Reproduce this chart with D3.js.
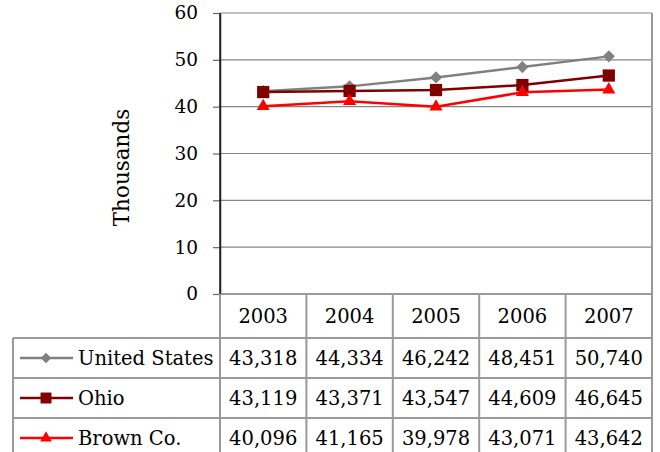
<!DOCTYPE html>
<html><head><meta charset="utf-8">
<script src="https://cdn.jsdelivr.net/npm/d3@7"></script>
<style>body{margin:0;background:#fff}svg{display:block}</style>
</head><body>
<svg id="c" width="660" height="452"></svg>
<script>
const years = ["2003","2004","2005","2006","2007"];
const seriesNames = ["United States","Ohio","Brown Co."];
const usValues = [43318, 44334, 46242, 48451, 50740];
const ohioValues = [43119, 43371, 43547, 44609, 46645];
const brownValues = [40096, 41165, 39978, 43071, 43642];
const yTicks = [0,10,20,30,40,50,60];
const yTitle = "Thousands";

const series = [
  {name: seriesNames[0], values: usValues, color: "#808080", marker: "diamond"},
  {name: seriesNames[1], values: ohioValues, color: "#800000", marker: "square"},
  {name: seriesNames[2], values: brownValues, color: "#ff0000", marker: "triangle"}
];

function markerPath(kind, big) {
  if (kind === "diamond") return d3.symbol(d3.symbolSquare, big ? 74 : 56)();
  if (kind === "square") return d3.symbol(d3.symbolSquare, big ? 150 : 120)();
  return d3.symbol(d3.symbolTriangle, big ? 74 : 60)();
}
function markerRot(kind) { return kind === "diamond" ? " rotate(45)" : ""; }

const font = "'DejaVu Serif', serif";
const svg = d3.select("#c");
const L = 220, R = 652, T = 13, B = 294;
const tableLeft = 13, rowH = 40, headH = 44;
const x = d3.scaleBand().domain(years).range([L, R]).padding(0);
const y = d3.scaleLinear().domain([0, 60]).range([B, T]);

// gridlines
svg.append("g").selectAll("line").data(yTicks).join("line")
  .attr("x1", L).attr("x2", R).attr("y1", d => y(d)).attr("y2", d => y(d))
  .attr("stroke", "#868686").attr("stroke-width", 1.2);

// y axis
const yAxis = d3.axisLeft(y).tickValues(yTicks).tickSize(7).tickPadding(15).tickSizeOuter(0);
const gy = svg.append("g").attr("transform", `translate(${L},0)`).call(yAxis);
gy.select(".domain").attr("stroke", "#222").attr("stroke-width", 1.5);
gy.selectAll(".tick line").attr("stroke", "#666").attr("stroke-width", 1.2);
gy.selectAll(".tick text").attr("font-family", font).attr("font-size", 18.5).attr("fill", "#000");

svg.append("text").attr("transform", `translate(129,${(T+B)/2+14}) rotate(-90)`)
  .attr("text-anchor", "middle").attr("font-family", font).attr("font-size", 21.5)
  .attr("fill", "#000").text(yTitle);

// table
const tg = svg.append("g").attr("stroke", "#9a9a9a").attr("stroke-width", 2);
const rowTops = [B, B + headH, B + headH + rowH, B + headH + 2*rowH];
tg.append("line").attr("x1", L).attr("x2", R).attr("y1", B).attr("y2", B);
rowTops.slice(1).forEach(yy => tg.append("line").attr("x1", tableLeft).attr("x2", R).attr("y1", yy).attr("y2", yy));
const bounds = years.map(d => x(d)).concat([R]);
bounds.forEach(xx => tg.append("line").attr("x1", xx).attr("x2", xx).attr("y1", B).attr("y2", 460));
tg.append("line").attr("x1", tableLeft).attr("x2", tableLeft).attr("y1", B + headH).attr("y2", 460);
svg.append("line").attr("x1", R).attr("x2", R).attr("y1", T).attr("y2", B).attr("stroke", "#9a9a9a").attr("stroke-width", 2);
svg.append("line").attr("x1", L).attr("x2", L).attr("y1", T).attr("y2", B).attr("stroke", "#222").attr("stroke-width", 1.5);

// year header
svg.append("g").selectAll("text").data(years).join("text")
  .attr("x", d => x(d) + x.bandwidth()/2).attr("y", B + headH/2 + 7)
  .attr("text-anchor", "middle").attr("font-family", font).attr("font-size", 19.5)
  .attr("fill", "#000").text(d => d);

const fmt = d3.format(",");
series.forEach((s, i) => {
  const cy = B + headH + rowH*i + rowH/2;
  svg.append("g").selectAll("text").data(s.values).join("text")
    .attr("x", (d, j) => x(years[j]) + x.bandwidth()/2).attr("y", cy + 7)
    .attr("text-anchor", "middle").attr("font-family", font).attr("font-size", 19.5)
    .attr("fill", "#000").text(d => fmt(d));
  svg.append("line").attr("x1", 20).attr("x2", 73).attr("y1", cy).attr("y2", cy)
    .attr("stroke", s.color).attr("stroke-width", 2.5);
  svg.append("path").attr("d", markerPath(s.marker, false))
    .attr("transform", `translate(46,${cy})` + markerRot(s.marker)).attr("fill", s.color);
  svg.append("text").attr("x", 78).attr("y", cy + 7).attr("font-family", font)
    .attr("font-size", 19.5).attr("fill", "#000").text(s.name);
});

// lines
const line = d3.line().x((d, j) => x(years[j]) + x.bandwidth()/2).y(d => y(d/1000));
series.forEach(s => {
  svg.append("path").datum(s.values).attr("d", line).attr("fill", "none")
    .attr("stroke", s.color).attr("stroke-width", 2.5);
});
series.forEach(s => {
  svg.append("g").selectAll("path").data(s.values).join("path")
    .attr("d", markerPath(s.marker, true))
    .attr("transform", (d, j) => `translate(${x(years[j]) + x.bandwidth()/2},${y(d/1000)})` + markerRot(s.marker))
    .attr("fill", s.color);
});
</script>
</body></html>
